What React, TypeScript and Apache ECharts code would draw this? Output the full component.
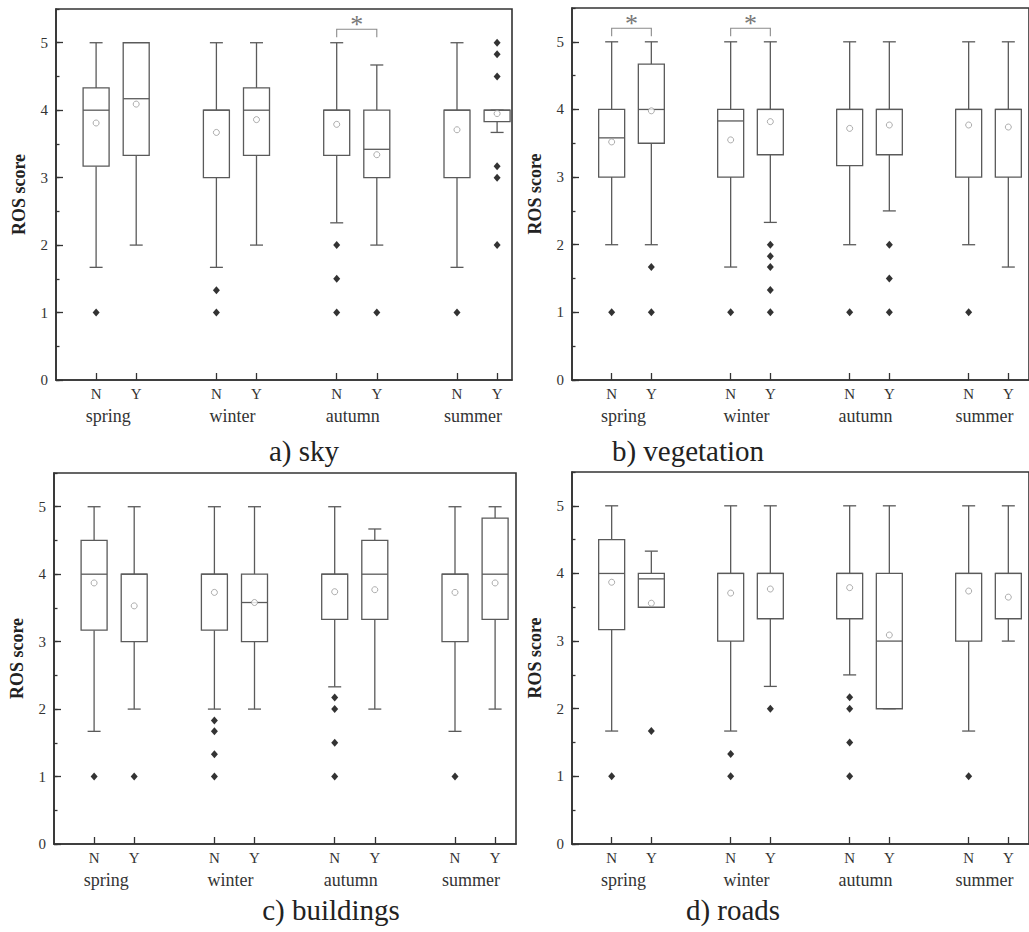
import React, { useEffect, useRef } from "react";
import * as echarts from "echarts";

// ---------- data ----------
const seasons = ["spring", "winter", "autumn", "summer"];
const groupLabels = ["N", "Y"];
const xPositions = [1, 2, 4, 5, 7, 8, 10, 11];
const seasonCenters = [1.3, 4.4, 7.4, 10.4];
const yTicks = [0, 1, 2, 3, 4, 5];

// boxes: [lowWhisker, Q1, median, Q3, highWhisker] for N/Y of spring, winter, autumn, summer
const skyBoxes = [
  [1.67, 3.17, 4, 4.33, 5],
  [2, 3.33, 4.17, 5, 5],
  [1.67, 3, 4, 4, 5],
  [2, 3.33, 4, 4.33, 5],
  [2.33, 3.33, 4, 4, 5],
  [2, 3, 3.42, 4, 4.67],
  [1.67, 3, 4, 4, 5],
  [3.67, 3.83, 4, 4, 4],
];
const skyMeans = [3.81, 4.09, 3.67, 3.86, 3.79, 3.34, 3.71, 3.95];
const skyOutliers = [
  [0, 1], [2, 1.33], [2, 1], [4, 2], [4, 1.5], [4, 1], [5, 1], [6, 1],
  [7, 5], [7, 4.83], [7, 4.5], [7, 3.17], [7, 3], [7, 2],
];
const skySig = [[4, 5]];

const vegBoxes = [
  [2, 3, 3.58, 4, 5],
  [2, 3.5, 4, 4.67, 5],
  [1.67, 3, 3.83, 4, 5],
  [2.33, 3.33, 4, 4, 5],
  [2, 3.17, 4, 4, 5],
  [2.5, 3.33, 4, 4, 5],
  [2, 3, 4, 4, 5],
  [1.67, 3, 4, 4, 5],
];
const vegMeans = [3.52, 3.98, 3.55, 3.82, 3.72, 3.77, 3.77, 3.74];
const vegOutliers = [
  [0, 1], [1, 1.67], [1, 1], [2, 1], [3, 2], [3, 1.83], [3, 1.67], [3, 1.33], [3, 1],
  [4, 1], [5, 2], [5, 1.5], [5, 1], [6, 1],
];
const vegSig = [[0, 1], [2, 3]];

const bldBoxes = [
  [1.67, 3.17, 4, 4.5, 5],
  [2, 3, 4, 4, 5],
  [2, 3.17, 4, 4, 5],
  [2, 3, 3.58, 4, 5],
  [2.33, 3.33, 4, 4, 5],
  [2, 3.33, 4, 4.5, 4.67],
  [1.67, 3, 4, 4, 5],
  [2, 3.33, 4, 4.83, 5],
];
const bldMeans = [3.87, 3.53, 3.73, 3.58, 3.74, 3.77, 3.73, 3.87];
const bldOutliers = [
  [0, 1], [1, 1], [2, 1.83], [2, 1.67], [2, 1.33], [2, 1],
  [4, 2.17], [4, 2], [4, 1.5], [4, 1], [6, 1],
];
const bldSig: number[][] = [];

const roadBoxes = [
  [1.67, 3.17, 4, 4.5, 5],
  [3.5, 3.5, 3.92, 4, 4.33],
  [1.67, 3, 4, 4, 5],
  [2.33, 3.33, 4, 4, 5],
  [2.5, 3.33, 4, 4, 5],
  [2, 2, 3, 4, 5],
  [1.67, 3, 4, 4, 5],
  [3, 3.33, 4, 4, 5],
];
const roadMeans = [3.87, 3.56, 3.71, 3.77, 3.79, 3.09, 3.74, 3.65];
const roadOutliers = [
  [0, 1], [1, 1.67], [2, 1.33], [2, 1], [3, 2], [4, 2.17], [4, 2], [4, 1.5], [4, 1], [6, 1],
];
const roadSig: number[][] = [];

const sigLevel = 5.2;
const titles = ["a) sky", "b) vegetation", "c) buildings", "d) roads"];

// ---------- layout / style ----------
const FONT = "'Liberation Serif', 'Times New Roman', serif";
const FRAME = "#333";
const BOXC = "#5a5a5a";
const PX_PER_UNIT = 40.1;

const panels = [
  { boxes: skyBoxes, means: skyMeans, outliers: skyOutliers, sig: skySig, left: 56, top: 9, width: 456, height: 371, title: titles[0], tx: 304, ty: 451 },
  { boxes: vegBoxes, means: vegMeans, outliers: vegOutliers, sig: vegSig, left: 572, top: 8, width: 462, height: 372, title: titles[1], tx: 688, ty: 451 },
  { boxes: bldBoxes, means: bldMeans, outliers: bldOutliers, sig: bldSig, left: 54, top: 473, width: 462, height: 371, title: titles[2], tx: 331, ty: 910 },
  { boxes: roadBoxes, means: roadMeans, outliers: roadOutliers, sig: roadSig, left: 572, top: 472, width: 462, height: 372, title: titles[3], tx: 733, ty: 910 },
];

function buildOption() {
  const grid: any[] = [];
  const xAxis: any[] = [];
  const yAxis: any[] = [];
  const series: any[] = [];
  const graphic: any[] = [];

  panels.forEach((p, i) => {
    grid.push({
      left: p.left, top: p.top, width: p.width, height: p.height,
      show: true, borderColor: FRAME, borderWidth: 1.6, backgroundColor: "transparent",
    });
    const xmax = p.width / PX_PER_UNIT;
    xAxis.push({
      type: "value", gridIndex: i, min: 0, max: xmax, position: "bottom",
      axisLine: { show: true, onZero: false, lineStyle: { color: FRAME, width: 1.6 } },
      axisTick: { show: true, inside: true, length: 7, customValues: xPositions, lineStyle: { color: FRAME, width: 1.3 } },
      axisLabel: {
        show: true, customValues: xPositions, margin: 6,
        formatter: (v: number) => groupLabels[xPositions.indexOf(v) % 2] ?? "",
        fontFamily: FONT, fontSize: 15, color: "#333",
      },
      splitLine: { show: false },
    });
    xAxis.push({
      type: "value", gridIndex: i, min: 0, max: xmax, position: "bottom",
      axisLine: { show: false, onZero: false }, axisTick: { show: false },
      axisLabel: {
        show: true, customValues: seasonCenters, margin: 27,
        formatter: (v: number) => seasons[seasonCenters.indexOf(v)] ?? "",
        fontFamily: FONT, fontSize: 18, color: "#333",
      },
      splitLine: { show: false },
    });
    yAxis.push({
      type: "value", gridIndex: i, min: 0, max: 5.5, position: "left",
      axisLine: { show: true, onZero: false, lineStyle: { color: FRAME, width: 1.6 } },
      axisTick: { show: true, inside: true, length: 7, customValues: yTicks, lineStyle: { color: FRAME, width: 1.3 } },
      axisLabel: {
        show: true, customValues: yTicks, margin: 8,
        fontFamily: FONT, fontSize: 15, color: "#333",
      },
      splitLine: { show: false },
      name: "ROS score", nameLocation: "middle", nameGap: 28, nameRotate: 90,
      nameTextStyle: { fontFamily: FONT, fontSize: 18, fontWeight: "bold", color: "#222" },
    });
    yAxis.push({
      type: "value", gridIndex: i, min: 0, max: 5.5, interval: 0.5, position: "left",
      axisLine: { show: false, onZero: false },
      axisTick: { show: true, inside: true, length: 3.5, lineStyle: { color: FRAME, width: 1.3 } },
      axisLabel: { show: false }, splitLine: { show: false },
    });

    const xi = 2 * i;
    const yi = 2 * i;

    series.push({
      type: "custom", xAxisIndex: xi, yAxisIndex: yi, z: 2,
      data: p.boxes.map((b, k) => [xPositions[k], ...b]),
      encode: { x: 0, y: [1, 2, 3, 4, 5] },
      renderItem: (params: any, api: any) => {
        const x = api.value(0);
        const pLow = api.coord([x, api.value(1)]);
        const pQ1 = api.coord([x, api.value(2)]);
        const pMed = api.coord([x, api.value(3)]);
        const pQ3 = api.coord([x, api.value(4)]);
        const pHigh = api.coord([x, api.value(5)]);
        const cx = pLow[0];
        const hb = 13;
        const hc = 6.5;
        const st = { stroke: BOXC, lineWidth: 1.3, fill: null };
        return {
          type: "group",
          children: [
            { type: "line", shape: { x1: cx, y1: pLow[1], x2: cx, y2: pQ1[1] }, style: st },
            { type: "line", shape: { x1: cx, y1: pQ3[1], x2: cx, y2: pHigh[1] }, style: st },
            { type: "line", shape: { x1: cx - hc, y1: pLow[1], x2: cx + hc, y2: pLow[1] }, style: st },
            { type: "line", shape: { x1: cx - hc, y1: pHigh[1], x2: cx + hc, y2: pHigh[1] }, style: st },
            {
              type: "rect",
              shape: { x: cx - hb, y: pQ3[1], width: 2 * hb, height: pQ1[1] - pQ3[1] },
              style: { stroke: BOXC, lineWidth: 1.3, fill: "#fff" },
            },
            { type: "line", shape: { x1: cx - hb, y1: pMed[1], x2: cx + hb, y2: pMed[1] }, style: st },
          ],
        };
      },
    });

    series.push({
      type: "scatter", xAxisIndex: xi, yAxisIndex: yi, z: 4,
      symbol: "circle", symbolSize: 6,
      itemStyle: { color: "#fff", borderColor: "#999", borderWidth: 1 },
      data: p.means.map((m, k) => [xPositions[k], m]),
    });

    series.push({
      type: "scatter", xAxisIndex: xi, yAxisIndex: yi, z: 4,
      symbol: "diamond", symbolSize: [7, 8],
      itemStyle: { color: "#000" },
      data: p.outliers.map(([k, v]) => [xPositions[k], v]),
    });

    if (p.sig.length) {
      series.push({
        type: "custom", xAxisIndex: xi, yAxisIndex: yi, z: 3,
        data: p.sig.map(([a, b]) => [xPositions[a], xPositions[b], sigLevel]),
        encode: { x: [0, 1], y: 2 },
        renderItem: (params: any, api: any) => {
          const a = api.coord([api.value(0), api.value(2)]);
          const b = api.coord([api.value(1), api.value(2)]);
          const leg = 8;
          return {
            type: "group",
            children: [
              {
                type: "polyline",
                shape: { points: [[a[0], a[1] + leg], [a[0], a[1]], [b[0], b[1]], [b[0], b[1] + leg]] },
                style: { stroke: "#8a8a8a", lineWidth: 1.1, fill: null },
              },
              {
                type: "text",
                style: {
                  text: "*", x: (a[0] + b[0]) / 2, y: a[1] - 5,
                  align: "center", verticalAlign: "middle",
                  fontFamily: FONT, fontSize: 26, fill: "#777",
                },
              },
            ],
          };
        },
      });
    }

    graphic.push({
      type: "text", x: p.tx, y: p.ty,
      style: {
        text: p.title, align: "center", verticalAlign: "middle",
        fontFamily: FONT, fontSize: 29, fill: "#222",
      },
    });
  });

  return {
    animation: false,
    backgroundColor: "#fff",
    grid, xAxis, yAxis, series, graphic,
  };
}

export default function App() {
  const ref = useRef<HTMLDivElement>(null);
  useEffect(() => {
    if (!ref.current) return;
    const chart = echarts.init(ref.current, null, { renderer: "svg" });
    chart.setOption(buildOption() as any);
    return () => chart.dispose();
  }, []);
  return (
    <div
      ref={ref}
      style={{ position: "fixed", left: 0, top: 0, width: 1029, height: 932, background: "#fff" }}
    />
  );
}
